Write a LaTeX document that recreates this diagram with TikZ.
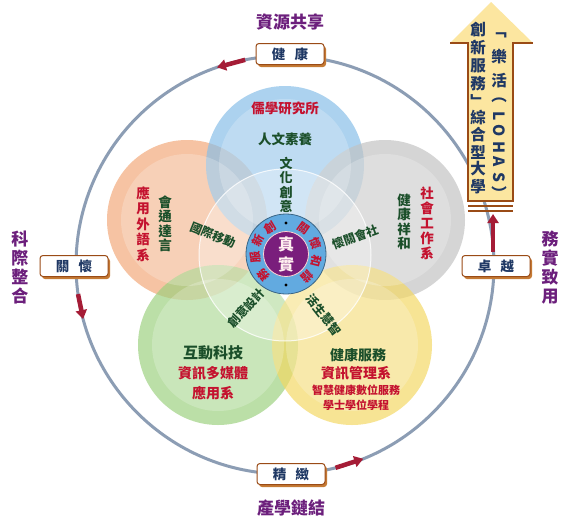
\documentclass[tikz,border=0pt]{standalone}
\usepackage{fontspec}
\setmainfont{Noto Sans CJK TC}
\usetikzlibrary{arrows.meta,shadows}

\definecolor{ringgray}{HTML}{8C9DB4}
\definecolor{flowred}{HTML}{A51C36}
\definecolor{plum}{HTML}{6C1F7C}
\definecolor{navy}{HTML}{1F3864}
\definecolor{deptred}{HTML}{C4122F}
\definecolor{leafgreen}{HTML}{1B4F2A}
\definecolor{tagbrown}{HTML}{9A4B16}
\definecolor{tagshade}{HTML}{C57A34}
\definecolor{ringblue}{HTML}{62AAE0}
\definecolor{corepurple}{HTML}{7A1E7C}
\definecolor{bannerfill}{HTML}{FCE6A0}
\definecolor{orangeout}{HTML}{F2A878}
\definecolor{blueout}{HTML}{86BEE8}
\definecolor{grayout}{HTML}{C2C2C2}
\definecolor{greenout}{HTML}{9CD07E}
\definecolor{yellowout}{HTML}{F4D862}

\tikzset{
  petal/.style={fill opacity=0.68},
  glow/.style={white, fill opacity=0.22},
  redtxt/.style={deptred, font=\bfseries\fontsize{13.5}{15}\selectfont, inner sep=0pt, align=center},
  greentxt/.style={leafgreen, font=\bfseries\fontsize{13.5}{15}\selectfont, inner sep=0pt, align=center},
  outertxt/.style={plum, font=\bfseries\fontsize{17}{19}\selectfont, inner sep=0pt, align=center},
  tag/.style={draw=tagbrown, line width=1pt, fill=white, rounded corners=3pt,
    minimum width=68pt, minimum height=21pt, inner sep=0pt, text=navy,
    font=\bfseries\fontsize{13.5}{14}\selectfont,
    drop shadow={shadow xshift=2pt, shadow yshift=-2.5pt, fill=tagshade, opacity=1}},
  flowarrow/.style={flowred, line width=4.5pt, -{Triangle[length=9pt,width=11pt]}},
  ringchar/.style={deptred, font=\bfseries\fontsize{11.5}{11.5}\selectfont, inner sep=0pt},
  bannertxt/.style={navy, font=\bfseries\fontsize{15.5}{16}\selectfont, inner sep=0pt}
}

\begin{document}
\begin{tikzpicture}[x=1pt,y=-1pt]
\fill[white] (0,0) rectangle (567,530);
\useasboundingbox (0,0) rectangle (567,530);

% outer cycle
\coordinate (hub) at (285,265);
\draw[ringgray, line width=3pt] (hub) circle (209pt);

% five petals
\fill[petal, orangeout] (187,220) circle (80pt);
\fill[petal, blueout] (285,165) circle (79pt);
\fill[petal, grayout] (385,220) circle (80pt);
\fill[petal, greenout] (218,345) circle (80pt);
\fill[petal, yellowout] (352,345) circle (80pt);
\foreach \c in {(187,220),(285,165),(385,220),(218,345),(352,345)}
  \fill[glow] \c circle (66pt);
\fill[white, fill opacity=0.3] (285,255) circle (86pt);
\draw[white, opacity=0.8, line width=1pt] (285,255) circle (86pt);

% center
\node[circle, minimum size=80pt, fill=ringblue, draw=ringblue!60!black, line width=0.8pt] (ring) at (286,254) {};
\node[circle, minimum size=45pt, inner sep=0pt, fill=corepurple, draw=pink!70, line width=0.8pt,
  font=\bfseries\fontsize{16}{20}\selectfont, text=pink!25, align=center] (core) at (ring) {真\\實};
\foreach \ch/\ang in {創/121,新/154,服/187,務/222,關/55,懷/20,和/-14,諧/-47}
  \node[ringchar, rotate=\ang-90] at ([shift={(\ang:31pt)}]ring) {\ch};
\fill ([shift={(90:31pt)}]ring) circle (1.7pt);
\fill ([shift={(-90:31pt)}]ring) circle (1.7pt);

% petal texts
\node[redtxt] (ruxue) at (285,108) {儒學研究所};
\node[greentxt] (renwen) at (285,139) {人文素養};
\node[greentxt, font=\bfseries\fontsize{13}{14.5}\selectfont] (wenhua) at (286,185) {文\\化\\創\\意};
\node[redtxt, font=\bfseries\fontsize{13.5}{15.5}\selectfont] (yingyu) at (143,224) {應\\用\\外\\語\\系};
\node[greentxt, font=\bfseries\fontsize{13.5}{14.5}\selectfont] (huitong) at (165,224) {會\\通\\達\\言};
\node[redtxt, font=\bfseries\fontsize{13.5}{15}\selectfont] (shegong) at (427,223) {社\\會\\工\\作\\系};
\node[greentxt, font=\bfseries\fontsize{13.5}{14.5}\selectfont] (jiankang) at (404,222) {健\\康\\祥\\和};
\node[greentxt, font=\bfseries\fontsize{12}{12}\selectfont, rotate=-22] (guoji) at (213,235) {國際移動};
\node[greentxt, font=\bfseries\fontsize{12}{12}\selectfont, rotate=20] (guanhuai) at (355,237) {懷關會社};
\node[greentxt, font=\bfseries\fontsize{12}{12}\selectfont, rotate=47] (chuangyi) at (246,308) {創意設計};
\node[greentxt, font=\bfseries\fontsize{12}{12}\selectfont, rotate=-52] (shenghuo) at (324,315) {活生慧智};
\node[greentxt, font=\bfseries\fontsize{15}{15}\selectfont] (hudong) at (213,353) {互動科技};
\node[redtxt, font=\bfseries\fontsize{14}{14}\selectfont] (ziduomei) at (213,373) {資訊多媒體};
\node[redtxt, font=\bfseries\fontsize{14}{14}\selectfont] (yingyong) at (213,393) {應用系};
\node[greentxt, font=\bfseries\fontsize{14}{14}\selectfont] (fuwu) at (358,355) {健康服務};
\node[redtxt, font=\bfseries\fontsize{14}{14}\selectfont] (ziguan) at (356,373) {資訊管理系};
\node[redtxt, font=\bfseries\fontsize{11}{11}\selectfont] (zhihui) at (356,390) {智慧健康數位服務};
\node[redtxt, font=\bfseries\fontsize{11}{11}\selectfont] (xueshi) at (356,405) {學士學位學程};

% tags on the cycle
\node[tag] (health) at (290,54) {健\hspace{0.7em}康};
\node[tag] (care) at (74,266) {關\hspace{0.7em}懷};
\node[tag] (refine) at (291,474) {精\hspace{0.7em}緻};
\node[tag] (excel) at (496,266) {卓\hspace{0.7em}越};

% outer labels
\node[outertxt] (share) at (290,22) {資源共享};
\node[outertxt] (cross) at (20,268) {科\\際\\整\\合};
\node[outertxt] (link) at (291,508) {產學鏈結};
\node[outertxt] (practice) at (550,268) {務\\實\\致\\用};

% flow arrows
\coordinate (t1) at ([shift={(101:209pt)}]hub);
\coordinate (t2) at ([shift={(109:209pt)}]hub);
\coordinate (l1) at ([shift={(188:209pt)}]hub);
\coordinate (l2) at ([shift={(195:209pt)}]hub);
\coordinate (b1) at ([shift={(284:209pt)}]hub);
\coordinate (b2) at ([shift={(292:209pt)}]hub);
\coordinate (banner) at (493,214);
\draw[flowarrow] (t1) -- (t2);
\draw[flowarrow] (l1) -- (l2);
\draw[flowarrow] (b1) -- (b2);
\draw[flowarrow] ([yshift=3pt]excel.north -| banner) -- (banner);

% banner arrow
\fill[bannerfill] (491,2) -- (533,43) -- (513,43) -- (513,201)
  -- (468,201) -- (468,43) -- (450,43) -- cycle;
\draw[tagbrown, line width=1.6pt] (450,43) -- (468,43) -- (468,201) -- (513,201) -- (513,43) -- (533,43);
\draw[tagbrown, line width=2pt] (468,206) -- (513,206);
\draw[tagbrown, line width=2pt] (468,211) -- (513,211);
\foreach \ch/\yy in {創/30,新/48,服/66,務/84,﹂/101,綜/118,合/135,型/152,大/169,學/187}
  \node[bannertxt] at (478,\yy) {\ch};
\foreach \ch/\yy in {﹁/35,樂/57,活/81,︵/100,\rotatebox{-90}{L}/116,\rotatebox{-90}{O}/131,\rotatebox{-90}{H}/147,\rotatebox{-90}{A}/162,\rotatebox{-90}{S}/177,︶/193}
  \node[bannertxt] at (499,\yy) {\ch};
\end{tikzpicture}
\end{document}
